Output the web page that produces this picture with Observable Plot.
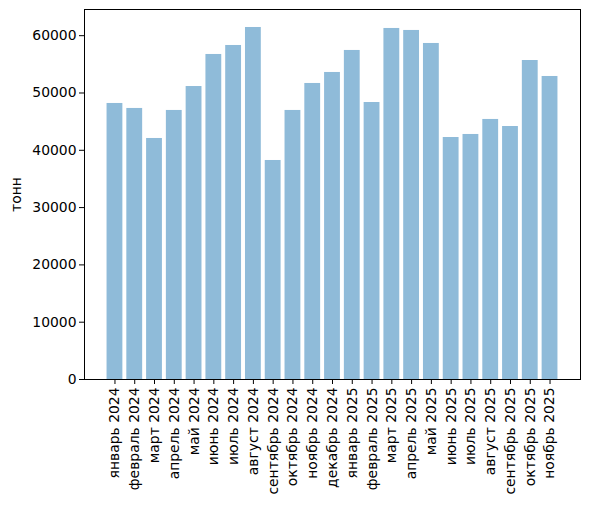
<!DOCTYPE html>
<html><head><meta charset="utf-8">
<script src="https://cdn.jsdelivr.net/npm/d3@7"></script>
<script src="https://cdn.jsdelivr.net/npm/@observablehq/plot@0.6"></script>
<style>body{margin:0;background:#fff} svg{font-family:"DejaVu Sans";}</style>
</head><body><div id="chart"></div>
<script>
const months = ["январь 2024","февраль 2024","март 2024","апрель 2024","май 2024","июнь 2024","июль 2024","август 2024","сентябрь 2024","октябрь 2024","ноябрь 2024","декабрь 2024","январь 2025","февраль 2025","март 2025","апрель 2025","май 2025","июнь 2025","июль 2025","август 2025","сентябрь 2025","октябрь 2025","ноябрь 2025"];
const tonnes = [48170,47300,42060,46950,51130,56720,58290,61430,38220,46950,51660,53580,57420,48340,61260,60910,58640,42230,42760,45380,44150,55670,52880];
const yTicks = [0,10000,20000,30000,40000,50000,60000];
const data = months.map((m,i)=>({month:m, value:tonnes[i]}));
const chart = Plot.plot({
  width: 589, height: 506,
  marginLeft: 84, marginRight: 9, marginTop: 9, marginBottom: 127,
  style: {fontFamily: "DejaVu Sans", fontSize: "13.9px", background: "white", color: "black"},
  x: {domain: months, paddingInner: 0.2, paddingOuter: 1.14, round: false, label: null},
  y: {domain: [0, 64570], label: "тонн"},
  marks: [
    Plot.barY(data, {x: "month", y: "value", fill: "#1f77b4", fillOpacity: 0.5}),
    Plot.axisX({tickRotate: -90, tickSize: 5, tickPadding: 3, label: null}),
    Plot.axisY({ticks: yTicks, tickFormat: d3.format("d"), tickSize: 5, tickPadding: 3, label: "тонн", labelAnchor: "center", labelOffset: 73, labelArrow: "none"}),
    Plot.frame({stroke: "black"})
  ]
});
document.getElementById("chart").appendChild(chart);
</script>
</body></html>
